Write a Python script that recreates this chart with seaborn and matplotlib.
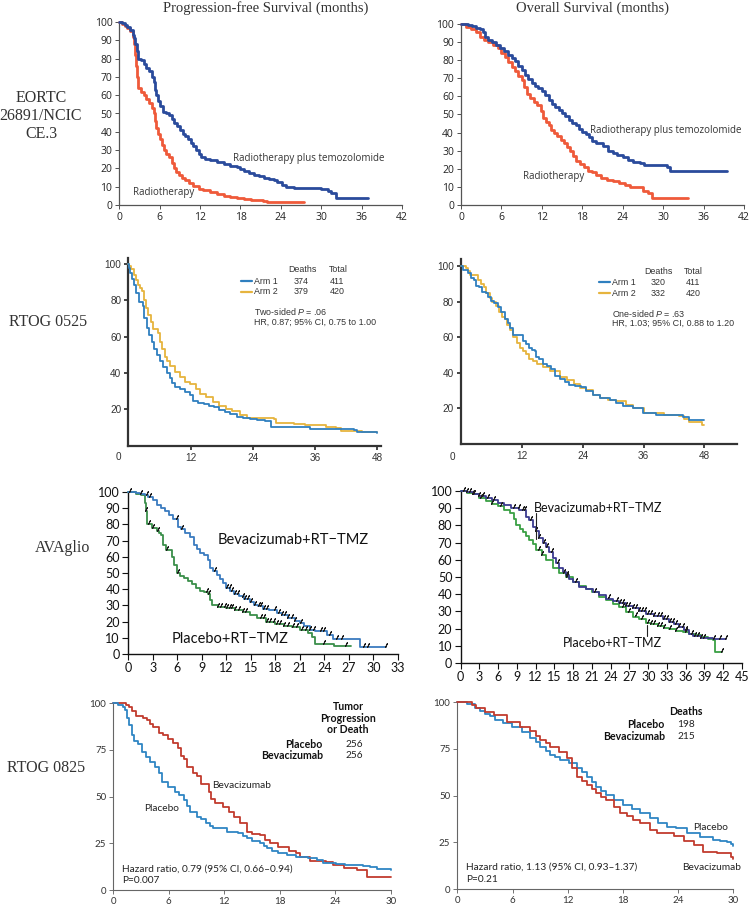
import numpy as np
import matplotlib
matplotlib.use("Agg")
import matplotlib.pyplot as plt
import seaborn as sns
from matplotlib.lines import Line2D

# ---------------- EORTC 26891/NCIC CE.3 ----------------
eortc_pfs_tmz_t = [0, 0.4, 0.8, 1.2, 1.6, 2.0, 2.2, 2.4, 2.6, 2.8,
                   3.2, 3.6, 4.0, 4.4, 4.8, 5.1, 5.3, 5.5, 5.8, 6.1,
                   6.5, 7.0, 7.4, 7.8, 8.2, 8.6, 9.0, 9.4, 9.8, 10.2,
                   10.6, 11.0, 11.4, 11.8, 12.2, 12.8, 13.5, 14.5, 15.5, 16.5,
                   17.5, 18.0, 18.5, 19.2, 20.0, 20.8, 21.5, 22.3, 23.0, 23.5,
                   24.2, 24.8, 26.0, 28.0, 30.0, 30.5, 31.0, 31.5, 32.2, 37.0]
eortc_pfs_tmz_s = [100, 99.5, 98.5, 97, 95.5, 93, 91, 88, 84, 80,
                   79, 77, 75, 73, 70, 67, 63, 60, 57, 54,
                   51, 50, 49, 47, 45, 43, 41, 39, 37.5, 36,
                   34, 32, 30, 28, 26, 25, 24.5, 23.5, 22.5, 21.5,
                   20.5, 19.5, 18.5, 17.5, 16.5, 16, 15, 14, 13.5, 12.5,
                   11, 10, 9.5, 9.5, 9, 8.5, 7.5, 6.5, 3.8, 3.8]
eortc_pfs_rt_t = [0, 0.4, 0.8, 1.2, 1.6, 2.0, 2.2, 2.4, 2.5, 2.6,
                  2.8, 3.2, 3.6, 4.0, 4.4, 4.8, 5.1, 5.3, 5.5, 5.7,
                  6.0, 6.3, 6.6, 7.0, 7.4, 7.8, 8.1, 8.4, 8.8, 9.3,
                  9.8, 10.4, 11.0, 11.8, 12.5, 13.5, 14.5, 15.5, 16.5, 17.5,
                  18.5, 19.5, 20.5, 21.3, 22.0, 27.5]
eortc_pfs_rt_s = [100, 99, 98, 96.5, 95, 92, 88, 82, 76, 70,
                  64, 62, 60, 58, 56, 53, 50, 46, 42, 39,
                  36, 33, 30, 28, 26, 23, 20, 18, 16.5, 15,
                  13.5, 12, 10.5, 9, 8, 7, 6, 5, 4.5, 4,
                  3.5, 3, 2.5, 2, 1.5, 1.5]
eortc_os_tmz_t = [0, 1, 1.6, 2.2, 2.8, 3.2, 3.6, 4.0, 4.6, 5.2,
                  5.8, 6.4, 7.0, 7.6, 8.0, 8.5, 9.0, 9.5, 10.0, 10.5,
                  11.0, 11.5, 12.0, 12.5, 13.0, 13.5, 14.0, 14.5, 15.0, 15.5,
                  16.0, 16.5, 17.0, 17.5, 18.0, 18.5, 19.0, 19.5, 20.0, 21.0,
                  21.8, 22.5, 23.2, 24.0, 24.8, 25.6, 26.5, 27.2, 30.5, 31.0, 39.5]
eortc_os_tmz_s = [100, 99.5, 99, 98, 97, 95.5, 93, 91, 90, 88.5,
                  86.5, 85, 83, 81, 79.5, 77, 74.5, 72, 69.5, 67.5,
                  66, 64.5, 63, 60.5, 58, 56, 54, 52.5, 51, 49,
                  47, 45.5, 44, 42, 40.5, 39, 37.5, 35.5, 34, 32.5,
                  30, 28.5, 27.5, 26.5, 25, 24, 23, 22, 21, 19, 19]
eortc_os_rt_t = [0, 0.8, 1.5, 2.2, 2.8, 3.4, 4.0, 4.8, 5.5, 6.0,
                 6.5, 7.0, 7.5, 8.0, 8.5, 9.0, 9.4, 9.8, 10.3, 10.8,
                 11.3, 11.8, 12.2, 12.6, 13.0, 13.4, 13.8, 14.3, 14.8, 15.3,
                 15.8, 16.2, 16.6, 17.0, 17.6, 18.2, 18.8, 19.4, 20.0, 20.8,
                 21.6, 22.5, 23.4, 24.3, 25.1, 26.6, 27.0, 27.8, 28.4, 33.7]
eortc_os_rt_s = [100, 98.5, 97, 95.5, 93, 91, 90, 88.5, 86.5, 84,
                 82, 79, 76.5, 74, 71.5, 69, 65, 61.5, 59, 57,
                 55, 52, 48, 46, 44, 41.5, 40, 38, 36, 34,
                 32, 30, 27, 24.5, 22.5, 21, 19, 18, 16.5, 15,
                 14, 13, 12, 11, 10, 10, 8, 6.5, 4, 4]

# ---------------- RTOG 0525 ----------------
r525_pfs_arm1_t = [0, 0.15, 0.3, 0.6, 1.0, 1.5, 2.0, 2.8, 3.1, 3.5,
                   4.0, 4.5, 5.0, 5.5, 6.0, 6.7, 7.4, 8.0, 8.5, 9.0,
                   10.0, 11.0, 11.9, 12.5, 13.5, 14.5, 15.5, 16.5, 17.5, 18.6,
                   19.5, 20.9, 22.0, 23.5, 24.8, 26.4, 27.5, 30.0, 33.0, 35.0, 43.5, 44.0, 48.0]
r525_pfs_arm1_s = [100, 98, 95, 92, 88.5, 84, 79, 77, 70, 64.5,
                   61, 57, 53, 50, 46.5, 43.5, 40, 37, 34.5, 32.5,
                   31, 29.5, 28, 24.5, 23.5, 23, 22, 21, 19.5, 18.5,
                   17.5, 16, 15, 14.5, 14, 13.5, 10.5, 10, 10, 9, 8.6, 7.4, 7]
r525_pfs_arm2_t = [0, 0.2, 0.5, 1.0, 1.5, 1.9, 2.3, 2.6, 3.0, 3.4,
                   3.8, 4.3, 4.8, 5.8, 6.0, 6.5, 7.0, 7.4, 8.0, 9.0,
                   10.0, 11.0, 11.9, 13.0, 13.9, 15.0, 16.4, 17.5, 18.9, 20.0,
                   21.5, 22.9, 28.0, 28.5, 32.0, 34.0, 38.0, 40.0, 41.0, 45.0, 48.0]
r525_pfs_arm2_s = [100, 99, 97, 94, 91, 88.5, 87, 85, 80, 76,
                   72, 68, 64, 62, 57, 53, 49, 46.5, 44, 40.5,
                   37.5, 35, 34, 31, 28.5, 26.5, 24, 22, 20, 19,
                   17, 15, 14.7, 12.5, 12, 11.5, 10.5, 9.5, 8, 7.5, 7.5]
r525_os_arm1_t = [0, 0.5, 1.5, 2.1, 2.6, 3.1, 3.6, 4.1, 5.0, 5.4,
                  6.0, 6.6, 7.3, 7.9, 8.7, 9.3, 9.8, 10.3, 11.6, 12.2,
                  12.8, 13.5, 14.0, 14.6, 14.9, 15.5, 16.2, 17.0, 17.8, 18.5,
                  19.5, 20.5, 21.4, 22.5, 23.7, 24.7, 26.0, 27.5, 29.3, 30.6,
                  32.0, 33.9, 35.9, 38.5, 41.1, 43.7, 45.0, 48.0]
r525_os_arm1_s = [100, 98, 96, 93.5, 92, 89, 88, 85.2, 85, 82.5,
                  80.5, 79, 77, 74, 70.5, 68, 65, 61.5, 61, 58,
                  56, 54, 53, 52.5, 49, 47.5, 45, 44, 42.4, 38,
                  36.5, 35, 33, 32.5, 32, 30, 27.5, 26, 24.7, 22.8,
                  21.5, 20.5, 17.5, 16.5, 16.3, 15.3, 13.5, 13.5]
r525_os_arm2_t = [0, 1.0, 1.5, 1.8, 3.0, 3.5, 4.0, 4.5, 5.0, 5.7,
                  6.2, 7.0, 7.6, 8.2, 8.7, 9.2, 9.7, 10.3, 11.0, 11.6,
                  12.2, 12.9, 13.5, 14.2, 15.0, 16.2, 17.5, 19.5, 21.0, 22.3,
                  23.4, 24.7, 26.0, 27.5, 29.0, 30.5, 32.5, 34.0, 36.0, 40.0,
                  43.0, 44.0, 45.0, 47.5, 48.0]
r525_os_arm2_s = [100, 99, 97, 95, 95, 92, 90, 88, 85, 82,
                  80, 77.5, 74, 71.5, 70, 67, 64, 60, 57, 54,
                  52, 50.5, 48, 46.5, 45, 43.5, 41, 37.8, 36, 33.5,
                  31.2, 30.3, 27.5, 26, 25, 24, 22, 20, 17.5, 16.5,
                  16, 14, 12.5, 10.6, 10.6]

# ---------------- AVAglio ----------------
ava_pfs_bev_t = [0, 1.0, 1.4, 2.0, 2.4, 3.0, 3.5, 4.0, 4.5, 5.0,
                 5.5, 6.1, 6.5, 7.0, 7.6, 8.0, 8.4, 8.8, 9.3, 9.8,
                 10.0, 10.4, 10.8, 11.2, 11.6, 12.0, 12.5, 12.9, 13.5, 14.2,
                 14.9, 15.4, 15.9, 16.5, 17.2, 18.2, 18.8, 19.5, 20.4, 21.0,
                 21.5, 22.2, 22.8, 24.3, 25.1, 28.3, 31.5]
ava_pfs_bev_s = [100, 99.5, 99, 98, 97, 95, 92, 90, 88, 86,
                 83.5, 78.5, 77, 75, 72.5, 67.5, 65, 62.5, 61, 58,
                 53, 51, 49, 46.5, 44, 41, 39, 37, 35.5, 34,
                 32, 30.5, 29.5, 28, 27, 25.3, 24, 22.5, 20.5, 19,
                 17.5, 15, 14, 12, 9.3, 4.6, 4.6]
ava_pfs_pla_t = [0, 1.0, 1.5, 2.0, 2.1, 2.2, 2.3, 2.9, 3.5, 3.8,
                 4.0, 4.2, 4.6, 5.3, 5.6, 5.9, 6.3, 6.8, 7.3, 7.8,
                 8.3, 8.8, 9.3, 9.8, 10.0, 10.2, 11.0, 12.0, 13.0, 14.0,
                 14.9, 15.8, 16.9, 18.0, 19.0, 20.0, 21.0, 22.0, 22.5, 22.9,
                 25.2, 27.2]
ava_pfs_pla_s = [100, 99, 98, 97, 93, 88, 80, 78, 76, 75,
                 73.5, 67, 64, 60, 55, 50, 48, 47, 45, 43,
                 41, 39, 38.5, 37, 33.5, 30.5, 29, 28.3, 27, 26,
                 24, 22, 19.5, 18.5, 17.5, 16.5, 15, 13, 10.5, 6.2,
                 4.7, 4.7]
ava_pfs_bev_cens = [0.2, 1.5, 2.3, 2.6, 6.0, 6.6, 10.6, 12.1, 12.4, 12.7, 13.0, 13.4,
                    14.0, 14.3, 14.6, 15.0, 15.5, 16.0, 16.3, 16.6, 17.0, 18.0, 18.4,
                    18.8, 19.2, 19.6, 20.0, 20.4, 21.2, 22.3, 22.7, 23.6, 24.0, 24.7,
                    25.6, 26.2, 28.9, 29.4, 31.5]
ava_pfs_pla_cens = [2.2, 2.5, 3.0, 3.6, 4.7, 6.1, 9.6, 9.9, 11.0, 11.4, 11.8, 12.1,
                    12.4, 12.7, 13.1, 13.6, 14.0, 14.4, 16.2, 16.6, 17.0, 17.4, 17.8,
                    18.2, 18.6, 19.1, 19.6, 20.1, 20.7, 21.3, 21.8, 24.0, 26.6]
ava_os_bev_t = [0, 1, 2, 3, 4, 5, 6, 7, 8.1, 9.4,
                10.5, 11.0, 11.5, 12.0, 12.6, 13.1, 13.7, 14.2, 14.7, 15.2,
                15.8, 16.3, 16.9, 17.4, 17.9, 19.0, 20.0, 21.1, 22.2, 23.2,
                24.3, 25.4, 26.4, 27.5, 28.5, 29.6, 31.0, 32.3, 33.4, 34.2,
                34.9, 35.8, 36.5, 37.1, 38.5, 40.3, 42.4]
ava_os_bev_s = [100, 99.5, 98.5, 97, 96, 95, 93.2, 92, 90.3, 88.9,
                85, 83, 79, 76.5, 72.4, 70, 67.6, 64.5, 61, 58,
                55, 53, 51, 49, 47.2, 44.3, 43, 41.4, 39.5, 37.5,
                36, 34.6, 33, 31.7, 30.2, 28.7, 27.3, 25.8, 24, 22.5,
                21, 19, 17, 15.5, 14.5, 14.2, 14.2]
ava_os_pla_t = [0, 1, 2, 3, 4.1, 5, 6, 7, 7.9, 8.5,
                8.9, 9.5, 10, 10.5, 11, 11.5, 12.1, 13.0, 13.7, 14.7,
                15.8, 16.9, 18, 19, 20, 21, 22.2, 23.2, 24.3, 25.4,
                26.4, 27.5, 28.5, 29.6, 30.5, 31.5, 32.5, 33.4, 34.5, 35.5,
                36.5, 37.5, 38.5, 39.5, 40.3, 40.7, 41.8]
ava_os_pla_s = [100, 99, 98, 96, 94.2, 92.5, 91.3, 89, 87, 84,
                80.2, 78, 76, 74, 71.8, 69, 65.6, 63, 59.8, 55,
                52.5, 50, 47, 45, 43, 41, 38.5, 36.5, 34.5, 32.6,
                29.5, 27, 25.5, 23.5, 22.5, 21.5, 20.5, 19.6, 18.5, 18,
                17, 16, 15, 14, 13.2, 6.4, 6.4]
ava_os_bev_cens = [0.5, 1.0, 1.5, 2.2, 3.0, 3.6, 4.3, 5.3, 8.5, 9.3, 10.0, 10.3, 11.2,
                   12.0, 12.6, 13.4, 13.8, 14.6, 15.5, 17.0, 18.5, 21.5, 23.8, 25.0,
                   25.5, 26.0, 26.5, 27.0, 27.5, 28.0, 28.5, 29.0, 29.5, 30.0, 30.5,
                   31.0, 31.5, 32.0, 32.5, 33.0, 33.5, 34.0, 34.5, 35.0, 35.5, 36.0,
                   37.5, 38.0, 38.5, 39.0, 40.5, 41.5, 42.4]
ava_os_pla_cens = [2.0, 3.2, 5.0, 6.5, 12.5, 13.0, 16.5, 17.0, 26.0, 27.0, 28.0, 29.0,
                   30.0, 30.5, 31.0, 31.5, 32.0, 32.5, 33.5, 34.5, 36.0, 37.0, 41.8]

# ---------------- RTOG 0825 ----------------
r825_pfs_pla_t = [0, 0.5, 1.0, 1.3, 1.5, 1.7, 2.0, 2.2, 2.7, 3.1,
                  3.5, 4.0, 4.5, 4.9, 5.3, 5.9, 6.7, 7.1, 7.6, 8.0,
                  8.3, 9.0, 9.5, 10.0, 10.4, 10.8, 12.3, 13.5, 14.0, 14.4,
                  15.0, 15.9, 16.3, 16.6, 17.2, 17.8, 18.8, 19.8, 21.0, 22.0,
                  22.7, 24.1, 25.0, 27.0, 27.7, 28.5, 30.0]
r825_pfs_pla_s = [100, 99, 98, 96.4, 92, 88.4, 83, 80, 78, 74,
                  71, 68.8, 66, 62.5, 58, 55.4, 52.7, 51, 48.2, 45,
                  42, 39.3, 38, 36, 34.5, 33, 31.3, 30.5, 29, 27.7,
                  26.5, 25, 23.5, 22.3, 21, 20, 19, 17.9, 17, 16,
                  14.6, 13.8, 13.5, 13, 12.5, 11, 10.5]
r825_pfs_bev_t = [0, 1.4, 1.7, 2.0, 2.5, 3.2, 3.6, 4.0, 4.3, 4.9,
                  5.4, 5.9, 6.5, 7.0, 7.3, 7.6, 8.0, 8.6, 9.0, 9.5,
                  10.3, 10.6, 11.0, 11.9, 12.5, 13.0, 13.7, 14.4, 15.0, 15.9,
                  16.4, 16.9, 17.8, 19.0, 19.8, 20.2, 21.3, 23.0, 23.8, 24.9,
                  26.3, 27.4, 28.5, 30.0]
r825_pfs_bev_s = [100, 99, 98, 96, 93.4, 92, 91, 89, 87.5, 84.3,
                  83, 80.7, 79, 75.9, 72, 70, 66, 62.5, 61, 57,
                  52.7, 49, 46.4, 44.6, 42, 39.3, 35.7, 31.3, 30, 29.5,
                  27, 25, 23.2, 21, 20, 17.9, 15.5, 15, 13.4, 11.6,
                  10.7, 7.1, 7.1, 7]
r825_os_pla_t = [0, 1.0, 1.9, 2.5, 3.0, 3.5, 4.1, 5.0, 5.9, 7.0,
                 7.9, 8.5, 9.0, 9.6, 10.1, 10.6, 11.2, 12.1, 13.0, 13.6,
                 14.1, 14.6, 15.1, 15.6, 16.2, 17.0, 18.0, 19.0, 19.9, 20.9,
                 21.8, 22.8, 23.8, 25.0, 26.4, 27.8, 28.6, 29.3, 29.7, 30.0]
r825_os_pla_s = [100, 99, 97.1, 95.5, 94, 92.5, 90.5, 89, 87, 84.3,
                 80.7, 78.5, 76.2, 74, 71.8, 70.5, 69.1, 67.3, 64.6, 62.5,
                 60.2, 57.5, 54.8, 52.5, 50.4, 47.5, 45, 43, 40.5, 37.9,
                 35.5, 33.4, 32.5, 30, 28, 26.2, 25.5, 25, 24, 23.2]
r825_os_bev_t = [0, 1.2, 1.6, 2.0, 3.0, 4.0, 5.4, 6.8, 7.9, 8.5,
                 9.0, 9.6, 10.1, 11.0, 11.9, 12.5, 13.0, 13.5, 14.1, 14.6,
                 15.1, 15.6, 16.2, 17.0, 17.7, 18.4, 19.1, 19.9, 20.9, 21.7,
                 22.8, 23.5, 24.2, 24.6, 25.7, 26.7, 28.2, 29.6, 29.8, 30.0]
r825_os_bev_s = [100, 100, 98.5, 97, 95, 93, 89.6, 87, 84.8, 82,
                 79.8, 78, 76.2, 73.6, 70, 65, 60.2, 58, 55.7, 53.5,
                 51.2, 49.5, 47.7, 44.1, 40.5, 39, 37, 35.2, 31.6, 29.8,
                 29.8, 28.6, 28.6, 25.9, 23.6, 20, 19.1, 19.1, 17, 16.1]

# tick values per row
eortc_xticks = [0, 6, 12, 18, 24, 30, 36, 42]
eortc_yticks = [0, 10, 20, 30, 40, 50, 60, 70, 80, 90, 100]
r525_xticks = [12, 24, 36, 48]
r525_yticks = [20, 40, 60, 80, 100]
ava_pfs_xticks = [0, 3, 6, 9, 12, 15, 18, 21, 24, 27, 30, 33]
ava_os_xticks = [0, 3, 6, 9, 12, 15, 18, 21, 24, 27, 30, 33, 36, 39, 42, 45]
ava_yticks = [0, 10, 20, 30, 40, 50, 60, 70, 80, 90, 100]
r825_xticks = [0, 6, 12, 18, 24, 30]
r825_yticks = [0, 25, 50, 75, 100]

# ---------------- styling ----------------
sns.set_theme(style="white")
plt.rcParams["font.family"] = ["Liberation Sans", "DejaVu Sans"]
plt.rcParams["mathtext.fontset"] = "custom"
plt.rcParams["mathtext.rm"] = "Liberation Sans"
plt.rcParams["mathtext.it"] = "Liberation Sans:italic"

W, H = 754, 905
fig = plt.figure(figsize=(W / 100, H / 100), dpi=100)
SERIF = "Liberation Serif"


def panel(left, top, right, bottom, xlim, ylim):
    ax = fig.add_axes([left / W, 1 - bottom / H, (right - left) / W, (bottom - top) / H])
    ax.set_xlim(*xlim)
    ax.set_ylim(*ylim)
    ax.patch.set_alpha(0)
    ax.spines["top"].set_visible(False)
    ax.spines["right"].set_visible(False)
    return ax


def style(ax, xticks, yticks, color, lw, size, family, length, labelcolor):
    ax.set_xticks(xticks, [str(v) for v in xticks], fontfamily=family)
    ax.set_yticks(yticks, [str(v) for v in yticks], fontfamily=family)
    for side in ("left", "bottom"):
        ax.spines[side].set_color(color)
        ax.spines[side].set_linewidth(lw)
    ax.tick_params(bottom=True, left=True, direction="out", length=length,
                   width=max(lw * 0.8, 0.6), color=color, labelsize=size,
                   labelcolor=labelcolor, pad=2)
    ax.set_xlabel("")
    ax.set_ylabel("")


def km(ax, t, s, color, lw):
    sns.lineplot(x=t, y=s, ax=ax, color=color, lw=lw, drawstyle="steps-post",
                 estimator=None, sort=False, clip_on=False, zorder=3)


def censor(ax, t, s, times, color="#1e1e1e"):
    t = np.asarray(t)
    s = np.asarray(s)
    idx = np.searchsorted(t, times, side="right") - 1
    ax.plot(times, s[idx] + 1.2, ls="none", marker=(2, 2, -25), ms=3.6, mew=0.7,
            color=color, clip_on=False, zorder=4)


def ftxt(x, y, s, **kw):
    kw.setdefault("va", "center")
    kw.setdefault("ha", "left")
    fig.text(x / W, 1 - y / H, s, **kw)


def fline(x0, x1, y, color, lw=1.6):
    fig.add_artist(Line2D([x0 / W, x1 / W], [1 - y / H, 1 - y / H], color=color, lw=lw))


# --------- Row 1: EORTC ---------
blue1, red1 = "#2a4b9c", "#ef5a3a"
ax = panel(119.3, 22, 402, 205, (0, 42), (0, 100))
km(ax, eortc_pfs_rt_t, eortc_pfs_rt_s, red1, 2.0)
km(ax, eortc_pfs_tmz_t, eortc_pfs_tmz_s, blue1, 2.0)
style(ax, eortc_xticks, eortc_yticks, "#555555", 0.9, 7.5, "Open Sans", 3, "#222222")

ax = panel(461, 24, 744, 205, (0, 42), (0, 100))
km(ax, eortc_os_rt_t, eortc_os_rt_s, red1, 2.0)
km(ax, eortc_os_tmz_t, eortc_os_tmz_s, blue1, 2.0)
style(ax, eortc_xticks, eortc_yticks, "#555555", 0.9, 7.5, "Open Sans", 3, "#222222")

ftxt(266, 8, "Progression-free Survival (months)", ha="center", family=SERIF,
     fontsize=10.5, color="#333333")
ftxt(592, 8, "Overall Survival (months)", ha="center", family=SERIF,
     fontsize=10.5, color="#333333")
ftxt(41, 116, "EORTC\n26891/NCIC\nCE.3", ha="center", family=SERIF, fontsize=11.5,
     color="#333333", linespacing=1.15)
ftxt(233, 159, "Radiotherapy plus temozolomide", family="Open Sans", fontsize=7, color="#333333")
ftxt(133, 193, "Radiotherapy", family="Open Sans", fontsize=7, color="#333333")
ftxt(590, 130, "Radiotherapy plus temozolomide", family="Open Sans", fontsize=7, color="#333333")
ftxt(523, 177, "Radiotherapy", family="Open Sans", fontsize=7, color="#333333")

# --------- Row 2: RTOG 0525 ---------
blue2, yel2 = "#2f7fbf", "#e6b43e"
ax = panel(128.4, 258, 381, 445.6, (0, 48.7), (0, 103.3))
km(ax, r525_pfs_arm2_t, r525_pfs_arm2_s, yel2, 1.3)
km(ax, r525_pfs_arm1_t, r525_pfs_arm1_s, blue2, 1.3)
style(ax, r525_xticks, r525_yticks, "#333333", 1.6, 7.2, "Liberation Sans", 3, "#333333")

ax = panel(460.7, 259.3, 737, 444, (0, 54.4), (0, 103.8))
km(ax, r525_os_arm2_t, r525_os_arm2_s, yel2, 1.3)
km(ax, r525_os_arm1_t, r525_os_arm1_s, blue2, 1.3)
style(ax, r525_xticks, r525_yticks, "#333333", 1.6, 7.2, "Liberation Sans", 3, "#333333")

ftxt(118, 457, "0", ha="center", fontsize=7.2, color="#333333")
ftxt(452, 457, "0", ha="center", fontsize=7.2, color="#333333")
ftxt(48, 322, "RTOG 0525", ha="center", family=SERIF, fontsize=11.5, color="#333333")

leg = dict(fontsize=6.4, color="#333333")
ftxt(302, 269, "Deaths", ha="center", **leg)
ftxt(338, 269, "Total", ha="center", **leg)
fline(241, 252, 281, blue2)
fline(241, 252, 292, yel2)
ftxt(254, 281, "Arm 1", **leg)
ftxt(254, 292, "Arm 2", **leg)
ftxt(301, 281, "374", ha="center", **leg)
ftxt(337, 281, "411", ha="center", **leg)
ftxt(301, 292, "379", ha="center", **leg)
ftxt(337, 292, "420", ha="center", **leg)
ftxt(254, 311, "Two-sided $\\it{P}$ = .06", **leg)
ftxt(254, 322, "HR, 0.87; 95% CI, 0.75 to 1.00", **leg)

ftxt(658, 271, "Deaths", ha="center", **leg)
ftxt(693, 271, "Total", ha="center", **leg)
fline(599, 610, 282, blue2)
fline(599, 610, 293, yel2)
ftxt(612, 282, "Arm 1", **leg)
ftxt(612, 293, "Arm 2", **leg)
ftxt(658, 282, "320", ha="center", **leg)
ftxt(693, 282, "411", ha="center", **leg)
ftxt(658, 293, "332", ha="center", **leg)
ftxt(693, 293, "420", ha="center", **leg)
ftxt(612, 313, "One-sided $\\it{P}$ = .63", **leg)
ftxt(612, 323, "HR, 1.03; 95% CI, 0.88 to 1.20", **leg)

# --------- Row 3: AVAglio ---------
blue3, green3, navy3, green4 = "#3a7bbf", "#3a8f4a", "#3b3b90", "#3aa044"
ax = panel(128.3, 492, 397.9, 654, (0, 33), (0, 100))
km(ax, ava_pfs_pla_t, ava_pfs_pla_s, green3, 1.3)
km(ax, ava_pfs_bev_t, ava_pfs_bev_s, blue3, 1.3)
censor(ax, ava_pfs_pla_t, ava_pfs_pla_s, ava_pfs_pla_cens)
censor(ax, ava_pfs_bev_t, ava_pfs_bev_s, ava_pfs_bev_cens)
style(ax, ava_pfs_xticks, ava_yticks, "#111111", 1.0, 9, "Lato", 4, "#111111")

ax = panel(460.7, 491, 742, 663, (0, 45), (0, 100))
km(ax, ava_os_pla_t, ava_os_pla_s, green4, 1.3)
km(ax, ava_os_bev_t, ava_os_bev_s, navy3, 1.3)
censor(ax, ava_os_pla_t, ava_os_pla_s, ava_os_pla_cens)
censor(ax, ava_os_bev_t, ava_os_bev_s, ava_os_bev_cens)
ax.plot([12.1, 12.1], [87, 72], color="#222222", lw=0.8, zorder=5)
ax.plot([29.8, 29.8], [22, 15.5], color="#222222", lw=0.8, zorder=5)
style(ax, ava_os_xticks, ava_yticks, "#111111", 1.0, 9, "Lato", 4, "#111111")

ftxt(63, 548, "AVAglio", ha="center", family=SERIF, fontsize=11.5, color="#333333")
ftxt(218, 540, "Bevacizumab+RT\u2212TMZ", family="Lato", fontsize=10.5, color="#111111")
ftxt(172, 639, "Placebo+RT\u2212TMZ", family="Lato", fontsize=10.5, color="#111111")
ftxt(534, 508, "Bevacizumab+RT\u2212TMZ", family="Lato", fontsize=9, color="#111111")
ftxt(563, 643, "Placebo+RT\u2212TMZ", family="Lato", fontsize=9, color="#111111")

# --------- Row 4: RTOG 0825 ---------
blue4, red4 = "#2f86c4", "#c23b2e"
ax = panel(113.3, 703.3, 390.8, 890, (0, 30), (0, 100))
km(ax, r825_pfs_bev_t, r825_pfs_bev_s, red4, 1.3)
km(ax, r825_pfs_pla_t, r825_pfs_pla_s, blue4, 1.3)
style(ax, r825_xticks, r825_yticks, "#666666", 0.8, 7, "Lato", 3, "#333333")

ax = panel(457.3, 702.3, 733.3, 889, (0, 30), (0, 100))
km(ax, r825_os_pla_t, r825_os_pla_s, blue4, 1.3)
km(ax, r825_os_bev_t, r825_os_bev_s, red4, 1.3)
style(ax, r825_xticks, r825_yticks, "#666666", 0.8, 7, "Lato", 3, "#333333")

ftxt(46, 768, "RTOG 0825", ha="center", family=SERIF, fontsize=11.5, color="#333333")
t825 = dict(family="Lato", fontsize=7.3, color="#222222")
b825 = dict(family="Lato", fontsize=7.6, color="#111111", fontweight="bold")
ftxt(348, 718, "Tumor\nProgression\nor Death", ha="center", linespacing=1.05, **b825)
ftxt(323, 744, "Placebo", ha="right", **b825)
ftxt(323, 755, "Bevacizumab", ha="right", **b825)
ftxt(354, 744, "256", ha="center", **t825)
ftxt(354, 755, "256", ha="center", **t825)
ftxt(212, 785, "Bevacizumab", **t825)
ftxt(144, 808, "Placebo", **t825)
ftxt(122, 869, "Hazard ratio, 0.79 (95% CI, 0.66\u20130.94)", **t825)
ftxt(122, 880, "P=0.007", **t825)

ftxt(686, 711, "Deaths", ha="center", **b825)
ftxt(665, 724, "Placebo", ha="right", **b825)
ftxt(665, 736, "Bevacizumab", ha="right", **b825)
ftxt(686, 724, "198", ha="center", **t825)
ftxt(686, 736, "215", ha="center", **t825)
ftxt(693, 827, "Placebo", **t825)
ftxt(682, 867, "Bevacizumab", **t825)
ftxt(466, 867, "Hazard ratio, 1.13 (95% CI, 0.93\u20131.37)", **t825)
ftxt(466, 879, "P=0.21", **t825)

fig.savefig("out.png", dpi=100, facecolor="white")
plt.close(fig)
